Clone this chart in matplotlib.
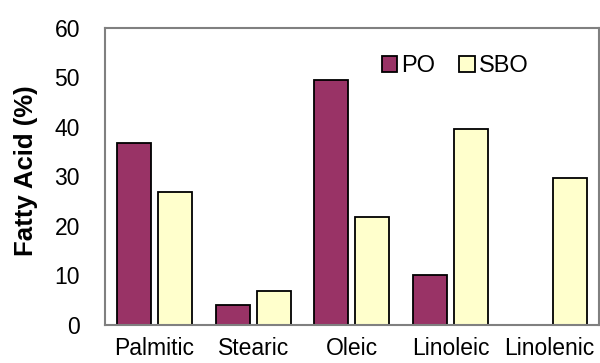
import numpy as np
import matplotlib.pyplot as plt

acids = ["Palmitic", "Stearic", "Oleic", "Linoleic", "Linolenic"]
po = [36.7, 4.0, 49.5, 10.0, 0.0]
sbo = [26.8, 6.9, 21.9, 39.5, 29.6]

plt.rcParams['font.family'] = ['Liberation Sans', 'DejaVu Sans']

fig = plt.figure(figsize=(6, 3.63), dpi=100)
ax = fig.add_axes([0.175, 0.105, 0.823, 0.818])

x = np.arange(len(acids))
w = 0.345
ax.bar(x - 0.207, po, w, color="#993366", edgecolor="black", linewidth=1.3, label="PO")
ax.bar(x + 0.207, sbo, w, color="#FFFFCC", edgecolor="black", linewidth=1.3, label="SBO")

ax.set_xlim(-0.5, len(acids) - 0.5)
ax.set_ylim(0, 60)
ax.set_yticks(range(0, 61, 10))
ax.set_xticks(x)
ax.set_xticklabels(acids)
ax.tick_params(axis="both", length=0, labelsize=16.5)
ax.tick_params(axis="y", pad=18)
ax.tick_params(axis="x", pad=9)
for s in ax.spines.values():
    s.set_color("#808080")
    s.set_linewidth(1.5)

ax.set_ylabel("Fatty Acid (%)", fontsize=18.5, fontweight="bold")
ax.yaxis.set_label_coords(-0.135, 0.52)

ax.legend(loc="center left", bbox_to_anchor=(0.56, 0.872), ncol=2, frameon=False,
          fontsize=17, handlelength=0.65, handleheight=0.65, handletextpad=0.2,
          columnspacing=1.0, borderpad=0, borderaxespad=0)

fig.savefig("out.png", dpi=100)
